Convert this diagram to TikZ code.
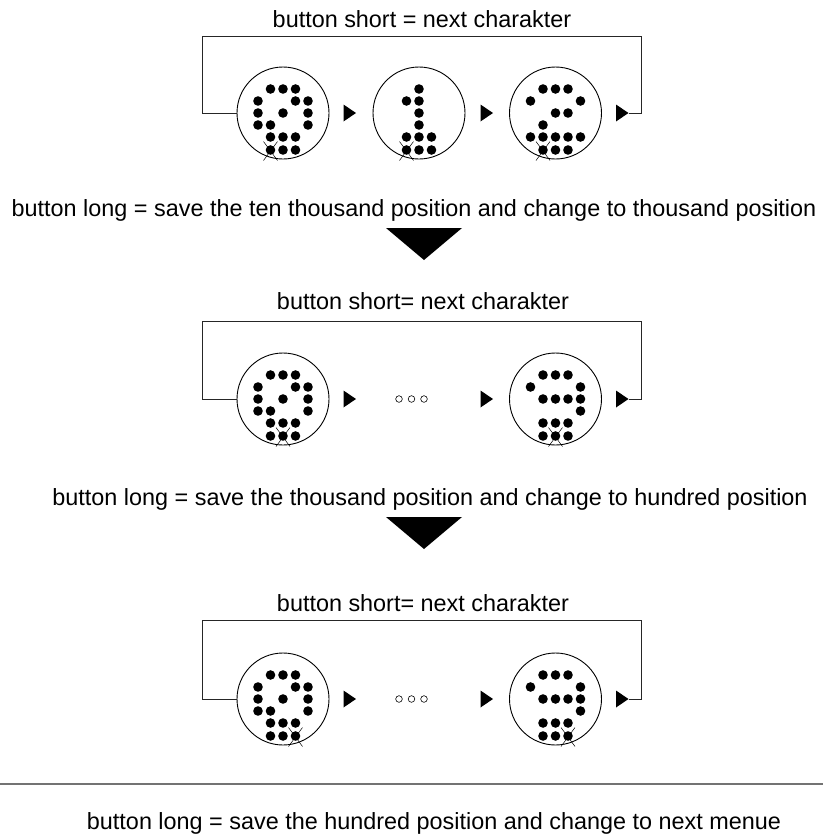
\documentclass[tikz,border=0pt]{standalone}
\usepackage{fontspec}
\setmainfont{Liberation Sans}
\usetikzlibrary{calc}

% one round display: a 5x6 grid of pixels with a cursor cross
% #1 name, #2 centre, #3 lit pixels (col/row), #4 cursor column
\newcommand\matrixdisc[4]{%
  \node[disc] (#1) at #2 {};
  \edef\pixlist{#3,2/6,3/6,4/6}%
  \foreach \px/\py in \pixlist {
    \pgfmathsetmacro\pyoff{\py<6 ? (\py-3)*12 : 37}
    \fill ($(#1.center)+({(\px-3)*12.5},\pyoff)$) circle[radius=4.8];
  }
  \draw[cursor] ($(#1.center)+({(#4-3)*12.5-7},28.5)$) -- ++(14,19);
  \draw[cursor] ($(#1.center)+({(#4-3)*12.5+7},28.5)$) -- ++(-14,19);
}
% small step arrowhead pointing right, tip at the named coordinate
\newcommand\steptip[1]{\fill (#1) -- ++(-12.5,-8.5) -- ++(0,17) -- cycle;}

\def\digzero{2/1,3/1,4/1,1/2,4/2,5/2,1/3,3/3,5/3,1/4,2/4,5/4,2/5,3/5,4/5}
\def\digone{3/1,2/2,3/2,3/3,3/4,2/5,3/5,4/5}
\def\digtwo{2/1,3/1,4/1,1/2,5/2,3/3,4/3,2/4,1/5,2/5,3/5,4/5,5/5}
\def\dignine{2/1,3/1,4/1,1/2,5/2,2/3,3/3,4/3,5/3,5/4,2/5,3/5,4/5}

\begin{document}
\begin{tikzpicture}[x=1pt,y=-1pt,
  lbl/.style={font=\fontsize{23.4}{27}\selectfont, inner sep=0pt, anchor=base},
  disc/.style={circle, draw, line width=0.9pt, minimum size=92pt, inner sep=0pt},
  cursor/.style={line width=0.5pt},
  wire/.style={draw=black!85, line width=0.9pt},
  dots/.style={draw, line width=0.6pt},
  ]
\path[use as bounding box] (0,0) rectangle (823,836);

% ---------- ten thousand position ----------
\node[lbl] (s1) at (422,27) {button short = next charakter};
\matrixdisc{c11}{(283,113)}{\digzero}{2}
\matrixdisc{c12}{(419,113)}{\digone}{2}
\matrixdisc{c13}{(555.5,113)}{\digtwo}{2}
\coordinate (t11) at (356,113);   \steptip{t11}
\coordinate (t12) at (493,113);   \steptip{t12}
\coordinate (t13) at (628.5,113); \steptip{t13}
\coordinate (r1) at (641.5,36);
\coordinate (l1) at (202,36);
\draw[wire] (t13) -| (r1) -- (l1) |- (c11.west);

\node[lbl] (b1) at (414,216) {button long = save the ten thousand position and change to thousand position};
\coordinate (d1) at (424,260);
\fill (d1) -- ++(-38,-32) -- ++(76,0) -- cycle;

% ---------- thousand position ----------
\node[lbl] (s2) at (423,309) {button short= next charakter};
\matrixdisc{c21}{(283,399)}{\digzero}{3}
\matrixdisc{c22}{(555.5,399)}{\dignine}{3}
\coordinate (t21) at (356,399);   \steptip{t21}
\coordinate (t22) at (493,399);   \steptip{t22}
\coordinate (t23) at (628.5,399); \steptip{t23}
\foreach \x in {399,411.5,424} \draw[dots] (\x,399) circle[radius=3.3];
\coordinate (r2) at (641.5,321);
\coordinate (l2) at (202,321);
\draw[wire] (t23) -| (r2) -- (l2) |- (c21.west);

\node[lbl] (b2) at (430,505) {button long = save the thousand position and change to hundred position};
\coordinate (d2) at (424,549);
\fill (d2) -- ++(-38,-32) -- ++(76,0) -- cycle;

% ---------- hundred position ----------
\node[lbl] (s3) at (423,611) {button short= next charakter};
\matrixdisc{c31}{(283,699)}{\digzero}{4}
\matrixdisc{c32}{(555.5,699)}{\dignine}{4}
\coordinate (t31) at (356,699);   \steptip{t31}
\coordinate (t32) at (493,699);   \steptip{t32}
\coordinate (t33) at (628.5,699); \steptip{t33}
\foreach \x in {399,411.5,424} \draw[dots] (\x,699) circle[radius=3.3];
\coordinate (r3) at (641.5,620);
\coordinate (l3) at (202,620);
\draw[wire] (t33) -| (r3) -- (l3) |- (c31.west);

% separator and final step
\coordinate (sepL) at (0,784);
\coordinate (sepR) at (823,784);
\draw[draw=black!55, line width=1.2pt] (sepL) -- (sepR);
\node[lbl] (b3) at (434,829) {button long = save the hundred position and change to next menue};
\end{tikzpicture}
\end{document}
